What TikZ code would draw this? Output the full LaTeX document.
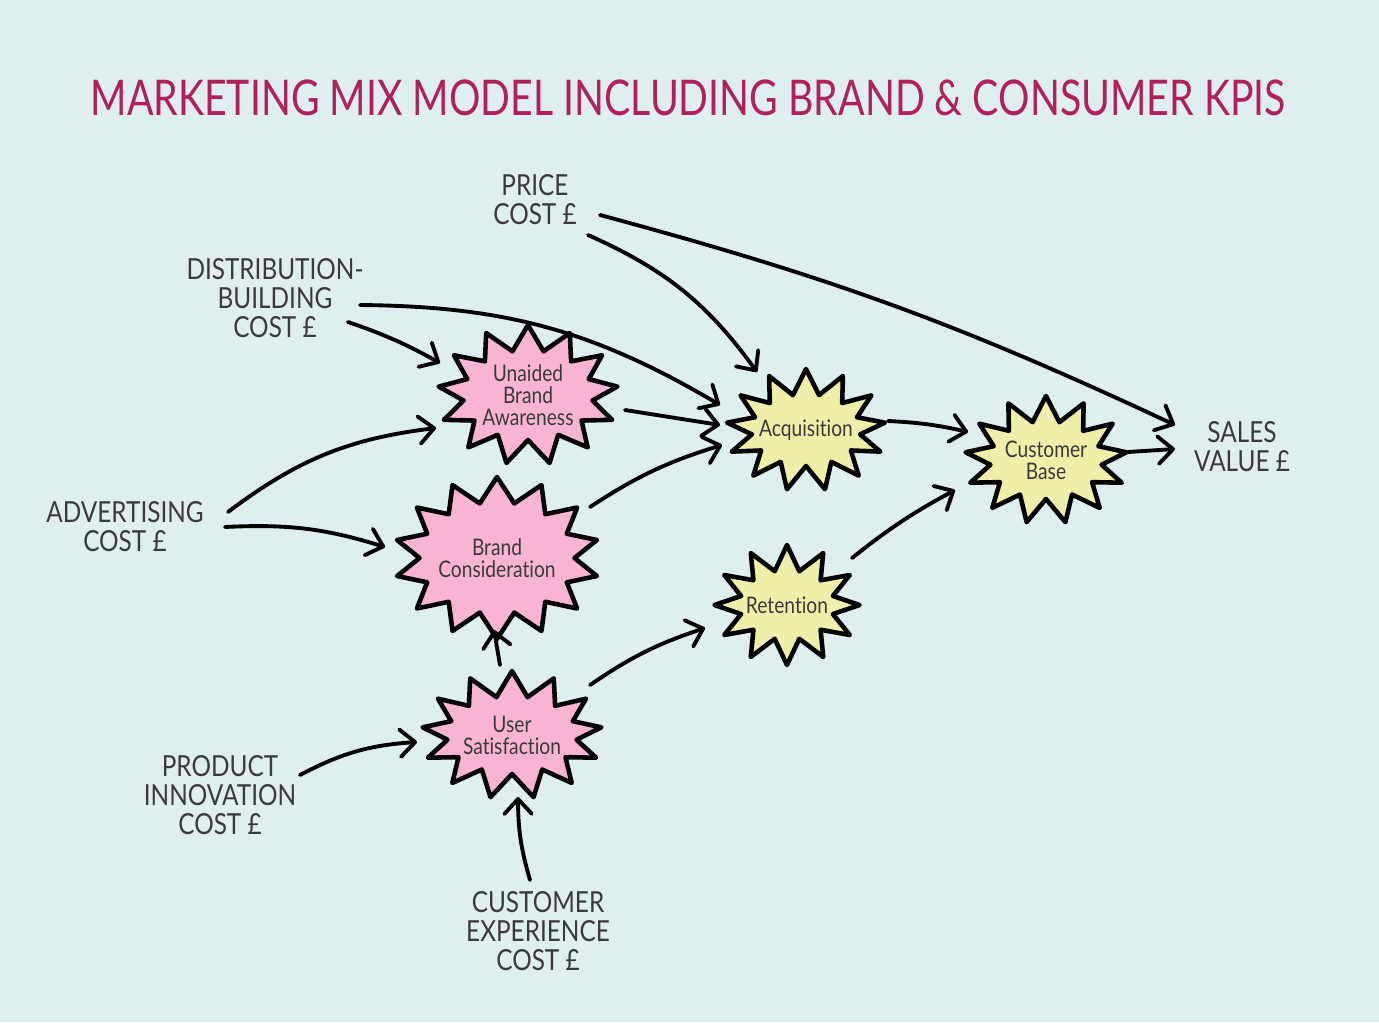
\documentclass[tikz,border=0pt]{standalone}
\usepackage{fontspec}
\setmainfont{Lato}[Ligatures=NoCommon, FakeStretch=0.84]
\usetikzlibrary{arrows.meta, shapes.symbols}
\definecolor{bgcol}{HTML}{DFEFEF}
\definecolor{titlecol}{HTML}{B0205A}
\definecolor{inkcol}{HTML}{3A3A3A}
\definecolor{kpipink}{HTML}{F8B4D2}
\definecolor{kpiyellow}{HTML}{F0EFAA}

\begin{document}
\begin{tikzpicture}[
    x=0.02cm, y=-0.02cm,
    >={Straight Barb[length=3mm, width=5.5mm, round]},
    cost/.style ={align=center, text=inkcol, inner sep=1pt,
                  font=\fontsize{16.5}{16.5}\selectfont},
    kpi/.style  ={starburst, starburst points=13,
                  starburst point height=0.5cm, random starburst=0,
                  draw=black, line width=2.6pt, line join=round,
                  inner sep=0pt},
    kpitext/.style={align=center, text=inkcol, inner sep=0pt,
                  font=\fontsize{13}{12.5}\selectfont},
    brand/.style={kpi, fill=kpipink},
    cust/.style ={kpi, fill=kpiyellow},
    flow/.style ={->, line width=2.2pt, line cap=round},
]
% background and title
\fill[bgcol] (0,0) rectangle (1379,1022);
\node[font=\fontsize{28}{28}\selectfont, text=titlecol] (title) at (688,98)
   {\scalebox{0.95}[1]{MARKETING MIX MODEL INCLUDING BRAND \& CONSUMER KPIS}};
% cost inputs
\node[cost] (price) at (535,200) {PRICE\\COST £};
\node[cost] (dist)  at (275,298) {DISTRIBUTION-\\BUILDING\\COST £};
\node[cost] (adv)   at (125,527) {ADVERTISING\\COST £};
\node[cost] (prod)  at (220,795) {PRODUCT\\INNOVATION\\COST £};
\node[cost] (cx)    at (538,931) {CUSTOMER\\EXPERIENCE\\COST £};
\node[cost] (sales) at (1242,447) {SALES\\VALUE £};
% brand kpis
\node[brand, minimum width=3.6cm, minimum height=2.8cm,
   label={[kpitext]center:Unaided\\Brand\\Awareness}] (ua) at (528,395) {};
\node[brand, minimum width=4.1cm, minimum height=3.24cm, starburst points=14,
   label={[kpitext]center:Brand\\Consideration}] (bc) at (497,558) {};
\node[brand, minimum width=3.6cm, minimum height=2.56cm,
   label={[kpitext]center:User\\Satisfaction}] (us) at (512,735) {};
% consumer kpis
\node[cust, minimum width=3.18cm, minimum height=2.44cm,
   label={[kpitext]center:Acquisition}] (acq) at (806,430) {};
\node[cust, minimum width=3.24cm, minimum height=2.56cm,
   label={[kpitext]center:Customer\\Base}] (cb) at (1046,460) {};
\node[cust, minimum width=2.9cm, minimum height=2.4cm, starburst points=12,
   label={[kpitext]center:Retention}] (ret) at (787,605) {};
% links
\draw[flow] ([shift={(65,15)}]price.center) to[bend left=5]
   ([shift={(-67,-22)}]sales.center);
\draw[flow] ([shift={(53,35)}]price.center) to[bend left=15]
   ([shift={(-49,-58)}]acq.center);
\draw[flow] ([shift={(85,7)}]dist.center) to[bend left=15]
   ([shift={(-86,-25)}]acq.center);
\draw[flow] ([shift={(73,24)}]dist.center) to[bend left=5]
   ([shift={(-88,-32)}]ua.center);
\draw[flow] ([shift={(97,15)}]ua.center) --
   ([shift={(-86,-5)}]acq.center);
\draw[flow] ([shift={(103,-15)}]adv.center) to[bend left=15]
   ([shift={(-92,33)}]ua.center);
\draw[flow] ([shift={(100,0)}]adv.center) to[bend left=10]
   ([shift={(-112,-11)}]bc.center);
\draw[flow] ([shift={(93,-51)}]bc.center) to[bend left=8]
   ([shift={(-84,15)}]acq.center);
\draw[flow] ([shift={(-12,-70)}]us.center) --
   ([shift={(-3,72)}]bc.center);
\draw[flow] ([shift={(78,-50)}]us.center) to[bend left=8]
   ([shift={(-82,23)}]ret.center);
\draw[flow] ([shift={(80,-20)}]prod.center) to[bend left=12]
   ([shift={(-95,7)}]us.center);
\draw[flow] ([shift={(-8,-51)}]cx.center) to[bend left=8]
   ([shift={(6,62)}]us.center);
\draw[flow] ([shift={(82,-9)}]acq.center) to[bend left=5]
   ([shift={(-78,-28)}]cb.center);
\draw[flow] ([shift={(65,-47)}]ret.center) to[bend left=5]
   ([shift={(-91,30)}]cb.center);
\draw[flow] ([shift={(82,-8)}]cb.center) --
   ([shift={(-67,2)}]sales.center);
\end{tikzpicture}
\end{document}
